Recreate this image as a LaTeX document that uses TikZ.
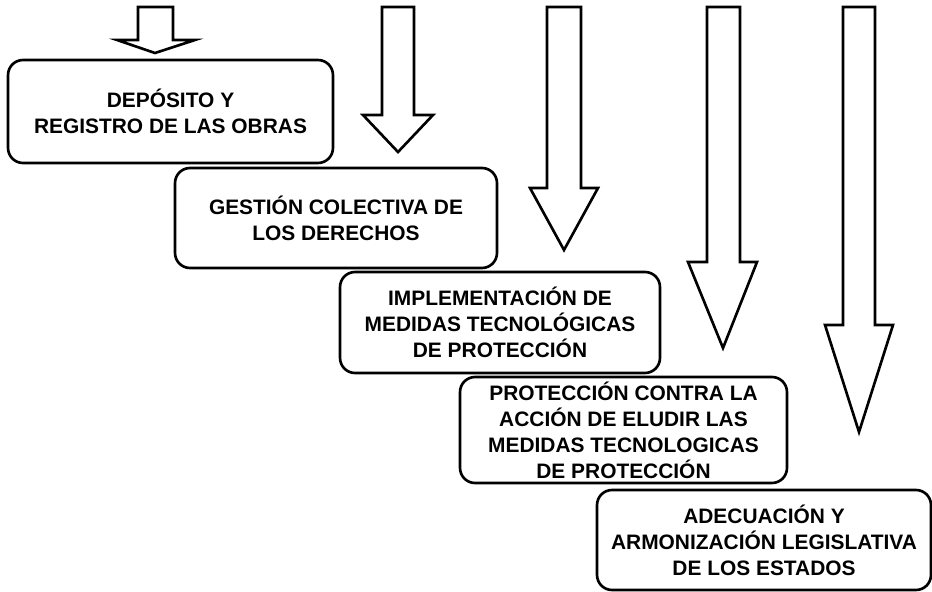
\documentclass[tikz,border=0pt]{standalone}
\usepackage{fontspec}
\setmainfont{Liberation Sans}
\usepackage{tikz}

\tikzset{
	etapa/.style={rectangle,draw,rounded corners=0.3cm,line width=1.5pt,align=center,
		font=\fontsize{11.9}{14.8}\selectfont\bfseries,inner sep=0pt},
	flecha/.style={draw,line width=1.5pt,fill=white,line join=miter}
}

\begin{document}
\begin{tikzpicture}[x=0.02cm,y=-0.02cm]
	\useasboundingbox (0,0) rectangle (932,591);
%	block arrows
	\draw[flecha] (138,7) -- (138,40) -- (117,40) -- (155,53) -- (195,40) -- (173,40) -- (173,7) -- cycle;
	\draw[flecha] (382,7) -- (382,115) -- (363,115) -- (398,152) -- (433,115) -- (414,115) -- (414,7) -- cycle;
	\draw[flecha] (547,7) -- (547,188) -- (530,188) -- (564,250) -- (598,188) -- (581,188) -- (581,7) -- cycle;
	\draw[flecha] (707,7) -- (707,262) -- (688,262) -- (723,348) -- (757,262) -- (740,262) -- (740,7) -- cycle;
	\draw[flecha] (843,7) -- (843,325) -- (825,325) -- (859,432) -- (893,325) -- (875,325) -- (875,7) -- cycle;
%	stages
	\path (170.5,111.5) node(deposito) [etapa,minimum width=6.5cm,minimum height=2.06cm]
		{DEPÓSITO Y\\REGISTRO DE LAS OBRAS};
	\path (336,218) node(gestion) [etapa,minimum width=6.44cm,minimum height=2cm]
		{GESTIÓN COLECTIVA DE\\LOS DERECHOS};
	\path (500,322.5) node(medidas) [etapa,minimum width=6.4cm,minimum height=2.02cm]
		{IMPLEMENTACIÓN DE\\MEDIDAS TECNOLÓGICAS\\DE PROTECCIÓN};
	\path (623.5,430) node(eludir) [etapa,minimum width=6.54cm,minimum height=2.12cm]
		{PROTECCIÓN CONTRA LA\\ACCIÓN DE ELUDIR LAS\\MEDIDAS TECNOLOGICAS\\DE PROTECCIÓN};
	\path (764,540) node(armonizacion) [etapa,minimum width=6.68cm,minimum height=2cm]
		{ADECUACIÓN Y\\ARMONIZACIÓN LEGISLATIVA\\DE LOS ESTADOS};
\end{tikzpicture}
\end{document}
